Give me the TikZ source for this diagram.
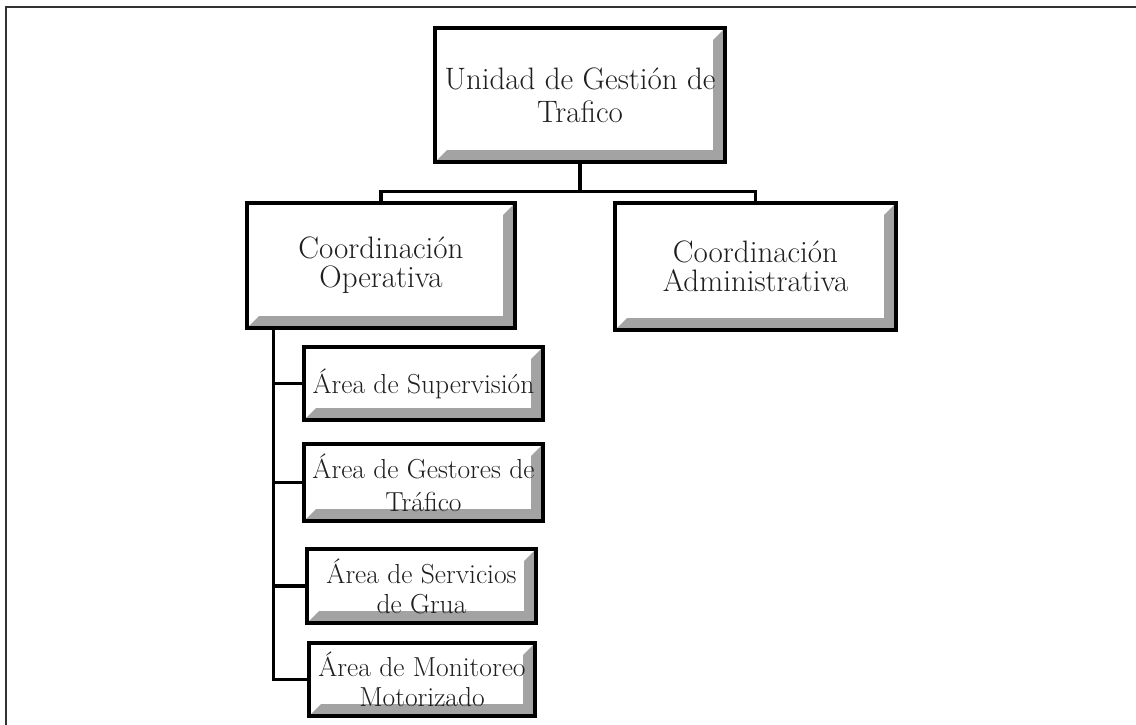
\documentclass[tikz,border=0pt]{standalone}
\usetikzlibrary{calc}
\definecolor{bevelgray}{gray}{0.64}
\definecolor{inkgray}{gray}{0.12}
\tikzset{
  % framed unit box with a shaded bevel on its lower and right inner edges
  % arguments: width, height, font size, line spacing
  unitbox/.style n args={4}{
    rectangle, draw=black, line width=3.6pt, fill=white, inner sep=0pt,
    minimum width=#1, minimum height=#2, align=center, text=inkgray,
    font=\fontsize{#3}{#4}\selectfont,
    path picture={
      \fill[bevelgray]
        (path picture bounding box.south west) --
        (path picture bounding box.south east) --
        (path picture bounding box.north east) --
        ([shift={(-12pt,-12pt)}]path picture bounding box.north east) --
        ([shift={(-12pt,12pt)}]path picture bounding box.south east) --
        ([shift={(12pt,12pt)}]path picture bounding box.south west) -- cycle;
    }
  },
  link/.style={draw=black, line width=3.2pt},
  frameline/.style={draw=black!80, line width=1.6pt}
}
\begin{document}
\begin{tikzpicture}[x=1pt, y=-1pt]
  \useasboundingbox (0,0) rectangle (1136,725);
  \fill[white] (0,0) rectangle (1136,725);
  \clip (0,0) rectangle (1136,725);

  % page frame (top and left rules)
  \draw[frameline] (6,740) -- (6,7) -- (1150,7);

  % units
  \node[unitbox={290pt}{134pt}{31}{33}] (top) at (580,95)
    {Unidad de Gestión de\\Trafico};
  \node[unitbox={268pt}{125pt}{31}{29}] (op) at (381,265.5)
    {Coordinación\\Operativa};
  \node[unitbox={281pt}{127pt}{31}{29}] (adm) at (755.5,266.5)
    {Coordinación\\Administrativa};
  \node[unitbox={239pt}{73pt}{27.5}{30}] (sup) at (423.5,383.5)
    {Área de Supervisión};
  \node[unitbox={239pt}{77pt}{27.5}{33}] (ges) at (423.5,482.5)
    {Área de Gestores de\\Tráfico};
  \node[unitbox={229pt}{74pt}{27.5}{30}] (gru) at (421.5,586)
    {Área de Servicios\\de Grua};
  \node[unitbox={226pt}{73pt}{27.5}{30}] (mon) at (422,679.5)
    {Área de Monitoreo\\Motorizado};

  % connectors from the head unit to both coordinations
  \coordinate (bus) at ([yshift=-28pt]top.south);
  \draw[link] (top.south) -- (bus);
  \draw[link] (op.north) |- (bus) -| (adm.north);

  % spine from the operative coordination to its areas
  \coordinate (spine) at ([xshift=28pt]op.south west);
  \draw[link] (spine) |- (mon.west);
  \draw[link] (spine |- sup.west) -- (sup.west);
  \draw[link] (spine |- ges.west) -- (ges.west);
  \draw[link] (spine |- gru.west) -- (gru.west);
\end{tikzpicture}
\end{document}
